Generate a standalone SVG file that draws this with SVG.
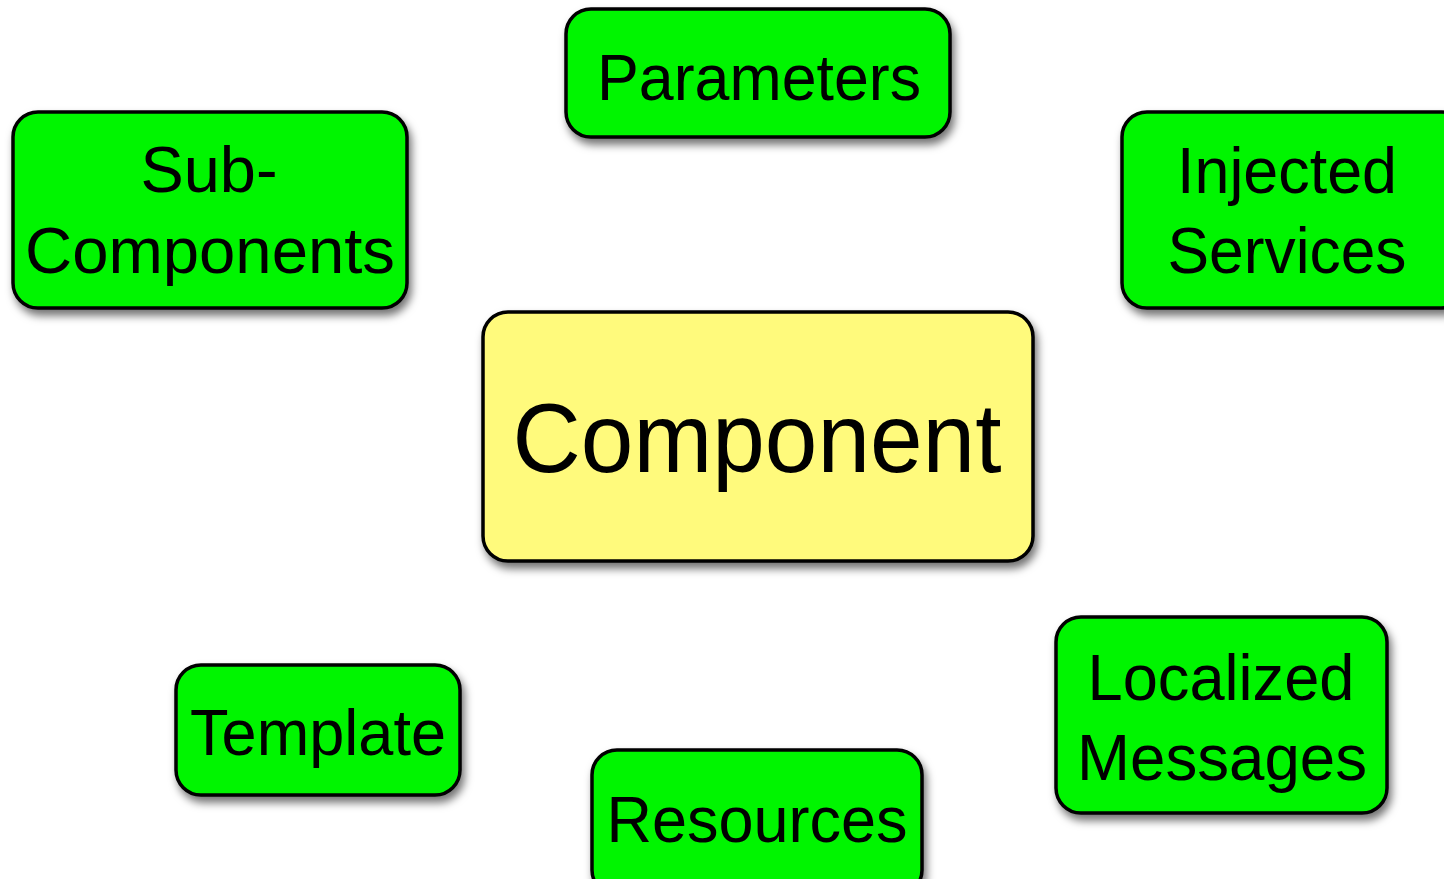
<svg xmlns="http://www.w3.org/2000/svg" width="1444" height="879" viewBox="0 0 1444 879">
<defs>
<filter id="sh" x="-10%" y="-10%" width="125%" height="130%">
<feDropShadow dx="3" dy="6" stdDeviation="4.5" flood-color="#000" flood-opacity="0.55"/>
</filter>
</defs>
<style>
.box{stroke:#000;stroke-width:3.5;filter:url(#sh)}
.g{fill:#00F500}
.y{fill:#FFFA7C}
text{font-family:"Liberation Sans",Arial,sans-serif;font-size:64px;fill:#000;text-anchor:middle}
.big{font-size:98px}
</style>
<rect width="1444" height="879" fill="#fff"/>
<g id="connectors"></g>
<g id="parameters">
<rect class="box g" x="566" y="9" width="384" height="128" rx="25"/>
<text x="759" y="100" textLength="324" lengthAdjust="spacingAndGlyphs">Parameters</text>
</g>
<g id="sub-components">
<rect class="box g" x="13" y="112" width="394" height="196" rx="25"/>
<text x="209" y="192" textLength="137" lengthAdjust="spacingAndGlyphs">Sub-</text>
<text x="210" y="273" textLength="370" lengthAdjust="spacingAndGlyphs">Components</text>
</g>
<g id="injected-services">
<rect class="box g" x="1122" y="112" width="345" height="196" rx="25"/>
<text x="1287" y="193" textLength="220" lengthAdjust="spacingAndGlyphs">Injected</text>
<text x="1287" y="273" textLength="239" lengthAdjust="spacingAndGlyphs">Services</text>
</g>
<g id="component">
<rect class="box y" x="483" y="312" width="550" height="249" rx="25"/>
<text class="big" x="757" y="472" textLength="489" lengthAdjust="spacingAndGlyphs">Component</text>
</g>
<g id="template">
<rect class="box g" x="176" y="665" width="284" height="130" rx="25"/>
<text x="318" y="755" textLength="256" lengthAdjust="spacingAndGlyphs">Template</text>
</g>
<g id="resources">
<rect class="box g" x="592" y="750" width="330" height="145" rx="25"/>
<text x="757" y="842" textLength="301" lengthAdjust="spacingAndGlyphs">Resources</text>
</g>
<g id="localized-messages">
<rect class="box g" x="1056" y="617" width="331" height="196" rx="25"/>
<text x="1221" y="700" textLength="267" lengthAdjust="spacingAndGlyphs">Localized</text>
<text x="1222" y="780" textLength="290" lengthAdjust="spacingAndGlyphs">Messages</text>
</g>
</svg>
